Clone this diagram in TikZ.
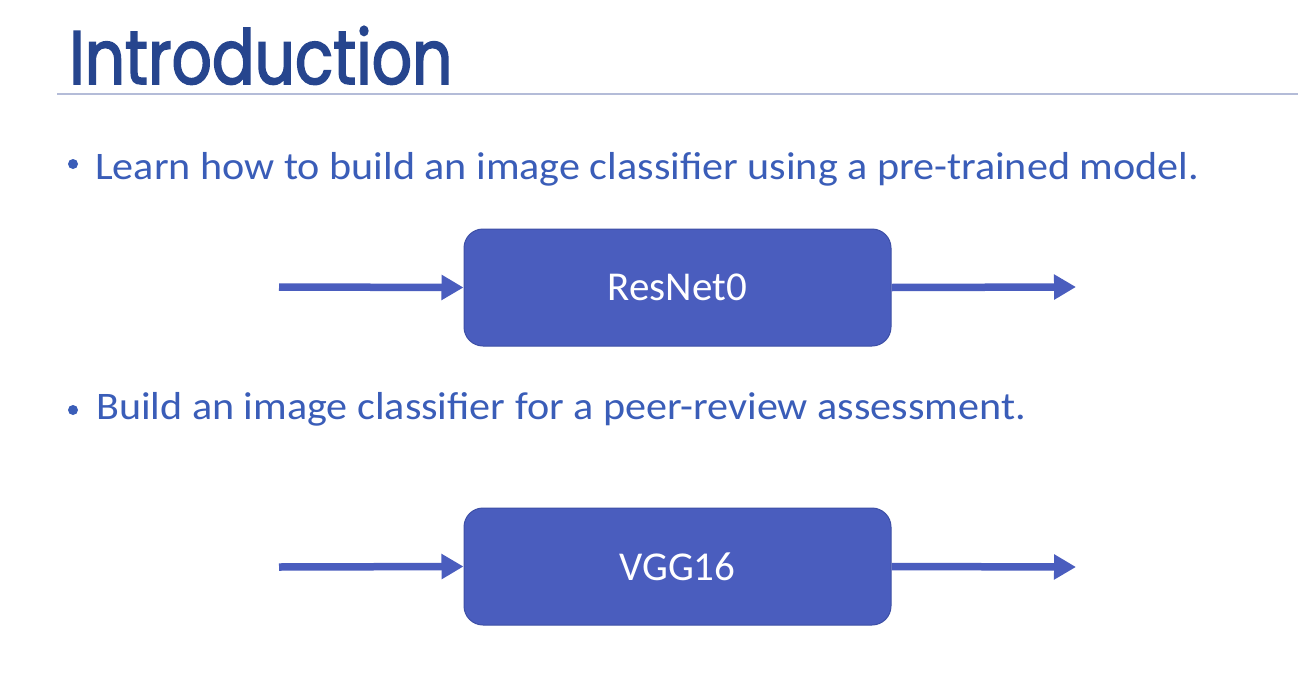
\documentclass[tikz,border=0pt]{standalone}
\usepackage{fontspec}
\setmainfont{Carlito}
\newfontfamily\bodyfont[FakeStretch=1.08]{Carlito}
\newfontfamily\titlefont[FakeStretch=0.83,FakeBold=2]{Poppins}
\usetikzlibrary{arrows.meta}
\definecolor{titleblue}{HTML}{26458E}
\definecolor{textblue}{HTML}{3A5DB8}
\definecolor{boxblue}{HTML}{4A5DBE}
\definecolor{boxedge}{HTML}{3D4FA6}
\definecolor{rulecol}{HTML}{B4BCD8}
\tikzset{
  model/.style={draw=boxedge, line width=1pt, fill=boxblue, rounded corners=19pt,
    minimum width=427pt, minimum height=117pt, inner sep=0pt,
    text=white, font=\fontsize{41}{48}\selectfont},
  flow/.style={draw=boxblue, line width=7.5pt,
    -{Triangle[length=22pt,width=24pt]}},
  bullettext/.style={anchor=base west, inner sep=0pt, text=textblue,
    font=\bodyfont\fontsize{39}{46}\selectfont},
  dot/.style={circle, fill=textblue, inner sep=0pt, minimum size=10pt}
}
\begin{document}
\begin{tikzpicture}[x=1pt,y=-1pt]
\useasboundingbox (0,0) rectangle (1298,677);
\fill[white] (0,0) rectangle (1298,677);
% title
\node[anchor=base west, inner sep=0pt, text=titleblue,
  font=\titlefont\fontsize{76}{90}\selectfont] (title) at (69,84) {Introduction};
\coordinate (ruleL) at (57,94);
\coordinate (ruleR) at (1298,94);
\draw[rulecol, line width=1.5pt] (ruleL) -- (ruleR);
% bullets
\node[dot] (d1) at (73,164) {};
\node[bullettext] (b1) at (95,179) {Learn how to build an image classifier using a pre-trained model.};
\node[dot] (d2) at (73,410) {};
\node[bullettext] (b2) at (96,419) {Build an image classifier for a peer-review assessment.};
% boxes
\node[model] (res) at (677.5,287.5) {ResNet0};
\node[model] (vgg) at (677.5,566.5) {VGG16};
% arrows
\coordinate (in1) at (279,287);
\coordinate (out1) at (1076,287);
\coordinate (in2) at (279,567);
\coordinate (out2) at (1076,567);
\draw[flow] (in1) -- (res.west);
\draw[flow] (res.east) -- (out1);
\draw[flow] (in2) -- (vgg.west);
\draw[flow] (vgg.east) -- (out2);
\end{tikzpicture}
\end{document}
